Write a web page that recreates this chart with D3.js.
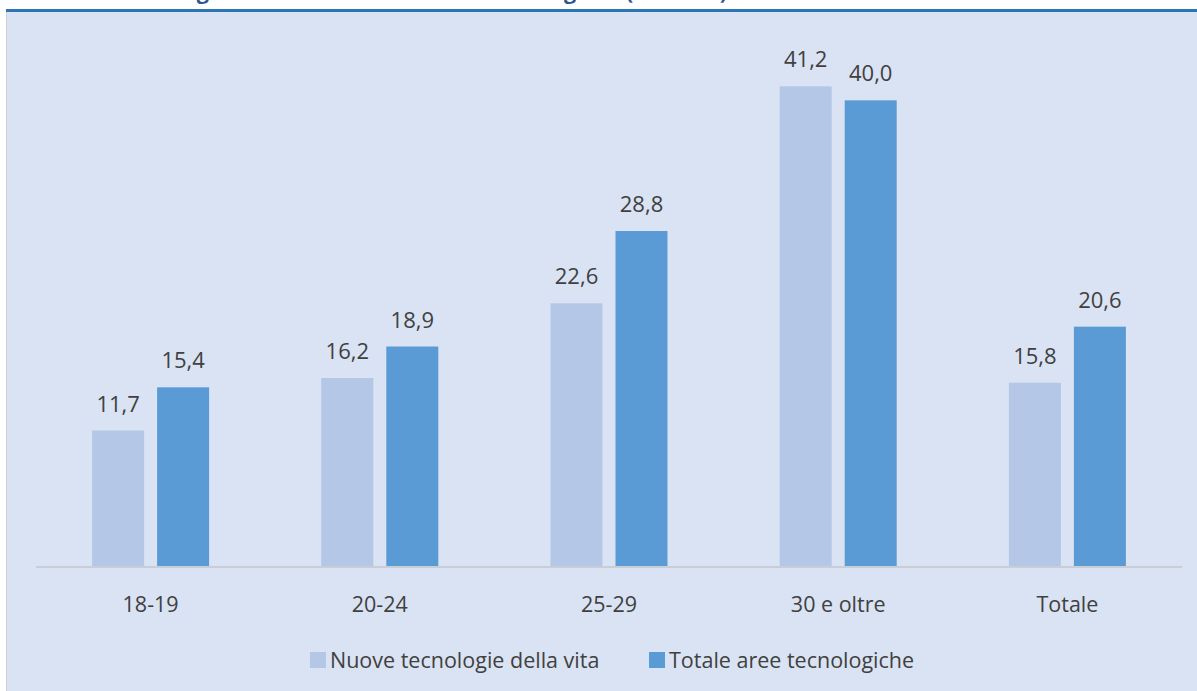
<!DOCTYPE html>
<html>
<head>
<meta charset="utf-8">
<script src="https://cdn.jsdelivr.net/npm/d3@7"></script>
<style>
  html, body { margin: 0; padding: 0; background: #ffffff; }
  svg { display: block; }
</style>
</head>
<body>
<div id="chart"></div>
<script>
const categories = ["18-19", "20-24", "25-29", "30 e oltre", "Totale"];
const seriesNames = ["Nuove tecnologie della vita", "Totale aree tecnologiche"];
const nuoveTecnologie = [11.7, 16.2, 22.6, 41.2, 15.8];
const totaleAree = [15.4, 18.9, 28.8, 40.0, 20.6];
const titleText = "Nuove tecnologie della vita e Totale aree tecnologiche (valori %)";

(function () {
const W = 1197, H = 691;
const colors = ["#B4C7E7", "#5B9BD5"];

const svg = d3.select("#chart").append("svg").attr("width", W).attr("height", H);

// clipped title at the very top
svg.append("text")
  .attr("x", 41).attr("y", -1)
  .attr("font-family", "'Open Sans', sans-serif")
  .attr("font-weight", 700).attr("font-size", 21.5)
  .attr("fill", "#2F5597")
  .text(titleText);

// panel
svg.append("rect").attr("x", 6).attr("y", 12).attr("width", W - 6).attr("height", H - 12)
  .attr("fill", "#DAE3F3");
svg.append("line").attr("x1", 6.5).attr("x2", 6.5).attr("y1", 12).attr("y2", H)
  .attr("stroke", "#D0D0D0").attr("stroke-width", 1);
svg.append("rect").attr("x", 6).attr("y", 9).attr("width", W - 6).attr("height", 3)
  .attr("fill", "#2E75B6");

const mLeft = 36, mRight = 1182, mTop = 42, mBottom = 567;

const x0 = d3.scaleBand().domain(categories).range([mLeft, mRight]).paddingInner(0).paddingOuter(0);
const y = d3.scaleLinear().domain([0, 45]).range([mBottom, mTop]);

const groupHalf = 58.5;
const data = categories.map((c, i) => ({
  cat: c,
  values: [
    { key: seriesNames[0], idx: 0, v: nuoveTecnologie[i] },
    { key: seriesNames[1], idx: 1, v: totaleAree[i] }
  ]
}));

const groups = svg.selectAll("g.grp").data(data).enter().append("g")
  .attr("class", "grp")
  .attr("transform", d => `translate(${x0(d.cat) + x0.bandwidth() / 2 - groupHalf},0)`);

const x1 = d3.scaleBand().domain(seriesNames).range([0, groupHalf * 2]).paddingInner(0.2).paddingOuter(0);

groups.selectAll("rect").data(d => d.values).enter().append("rect")
  .attr("x", d => x1(d.key))
  .attr("y", d => y(d.v))
  .attr("width", x1.bandwidth())
  .attr("height", d => y(0) - y(d.v))
  .attr("fill", d => colors[d.idx]);

groups.selectAll("text.val").data(d => d.values).enter().append("text")
  .attr("class", "val")
  .attr("x", d => x1(d.key) + x1.bandwidth() / 2)
  .attr("y", d => y(d.v) - 19)
  .attr("text-anchor", "middle")
  .attr("font-family", "'Open Sans', sans-serif")
  .attr("font-size", 22)
  .attr("fill", "#404040")
  .text(d => d3.format(".1f")(d.v).replace(".", ","));

// axis
const xAxis = d3.axisBottom(x0).tickSize(0).tickPadding(0);
const ax = svg.append("g").attr("transform", `translate(0,${mBottom})`).call(xAxis);
ax.select(".domain").attr("stroke", "#C9CED6").attr("stroke-width", 2).attr("d", `M${mLeft},0H${mRight}`);
ax.selectAll(".tick text")
  .attr("y", 45).attr("dy", 0)
  .attr("font-family", "'Open Sans', sans-serif")
  .attr("font-size", 21.5)
  .attr("fill", "#404040");

// legend
const legendItems = [
  { name: seriesNames[0], color: colors[0], x: 310 },
  { name: seriesNames[1], color: colors[1], x: 649 }
];
const lg = svg.selectAll("g.leg").data(legendItems).enter().append("g")
  .attr("class", "leg")
  .attr("transform", d => `translate(${d.x},0)`);
lg.append("rect").attr("x", 0).attr("y", 652).attr("width", 16).attr("height", 16)
  .attr("fill", d => d.color);
lg.append("text").attr("x", 20).attr("y", 668)
  .attr("font-family", "'Open Sans', sans-serif")
  .attr("font-size", 21.5)
  .attr("fill", "#404040")
  .text(d => d.name);
})();
</script>
</body>
</html>
